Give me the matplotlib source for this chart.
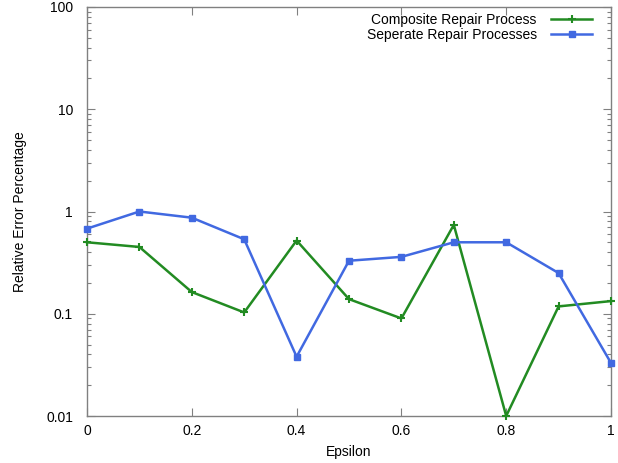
import numpy as np
import matplotlib
matplotlib.use("Agg")
import matplotlib.pyplot as plt
from matplotlib.ticker import LogLocator, FuncFormatter

plt.rcParams['font.family'] = ['Liberation Sans', 'DejaVu Sans']
plt.rcParams['font.size'] = 10

epsilon = [0.0, 0.1, 0.2, 0.3, 0.4, 0.5, 0.6, 0.7, 0.8, 0.9, 1.0]
composite = [0.50, 0.45, 0.163, 0.103, 0.52, 0.139, 0.090, 0.74, 0.010, 0.118, 0.133]
separate = [0.68, 1.0, 0.87, 0.535, 0.038, 0.33, 0.36, 0.50, 0.50, 0.25, 0.033]

x_ticks = [0, 0.2, 0.4, 0.6, 0.8, 1]
x_labels = ["0", "0.2", "0.4", "0.6", "0.8", "1"]
y_ticks = [0.01, 0.1, 1, 10, 100]
y_labels = ["0.01", "0.1", "1", "10", "100"]

fig = plt.figure(figsize=(6.18, 4.63), dpi=100)
ax = fig.add_axes([87 / 618, 47 / 463, (611 - 87) / 618, (416 - 7) / 463])

ax.plot(epsilon, composite, color='#228b22', lw=1.8, marker='+', ms=6, mew=1.5,
        label='Composite Repair Process', clip_on=False, zorder=3)
ax.plot(epsilon, separate, color='#4169e1', lw=1.8, marker='s', ms=5,
        label='Seperate Repair Processes', clip_on=False, zorder=3)

ax.set_yscale('log')
ax.set_xlim(0, 1)
ax.set_ylim(0.01, 100)
ax.set_xticks(x_ticks)
ax.set_xticklabels(x_labels)
ax.set_yticks(y_ticks)
ax.set_yticklabels(y_labels)
ax.yaxis.set_minor_locator(LogLocator(base=10, subs=np.arange(2, 10)))
ax.yaxis.set_minor_formatter(FuncFormatter(lambda v, p: ""))

ax.tick_params(which='both', direction='in', top=True, right=True, color='#808080')
ax.tick_params(which='major', length=6, width=0.8)
ax.tick_params(axis='y', which='major', pad=10)
ax.tick_params(axis='x', which='major', pad=6)
ax.tick_params(which='minor', length=3, width=0.8)
for s in ax.spines.values():
    s.set_color('#808080')
    s.set_linewidth(1.0)

ax.set_xlabel('Epsilon', labelpad=5)
ax.set_ylabel('Relative Error Percentage', labelpad=14)

ax.legend(loc='upper right', frameon=False, markerfirst=False, handlelength=3.0,
          borderaxespad=0.0, labelspacing=0.1, handletextpad=1.0,
          bbox_to_anchor=(0.975, 1.0))

fig.savefig('out.png', dpi=100)
